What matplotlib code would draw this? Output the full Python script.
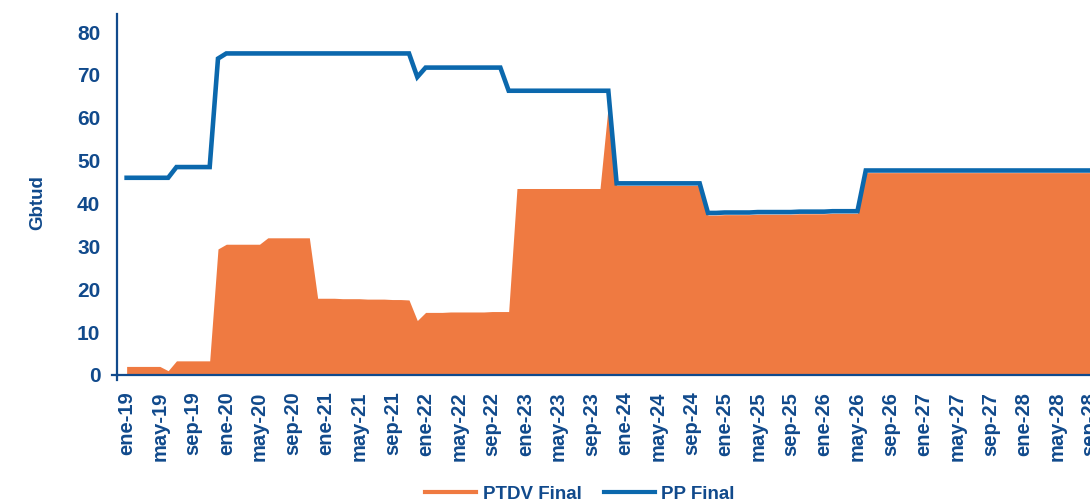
import matplotlib.pyplot as plt
from matplotlib.lines import Line2D

# monthly values, ene-19 .. dic-28 (Gbtud)
pp_final = [
    46.0, 46.0, 46.0, 46.0, 46.0, 46.0, 48.5, 48.5, 48.5, 48.5, 48.5, 73.8,   # 2019
    75.0, 75.0, 75.0, 75.0, 75.0, 75.0, 75.0, 75.0, 75.0, 75.0, 75.0, 75.0,   # 2020
    75.0, 75.0, 75.0, 75.0, 75.0, 75.0, 75.0, 75.0, 75.0, 75.0, 75.0, 69.5,   # 2021
    71.7, 71.7, 71.7, 71.7, 71.7, 71.7, 71.7, 71.7, 71.7, 71.7, 66.3, 66.3,   # 2022
    66.3, 66.3, 66.3, 66.3, 66.3, 66.3, 66.3, 66.3, 66.3, 66.3, 66.3, 44.7,   # 2023
    44.7, 44.7, 44.7, 44.7, 44.7, 44.7, 44.7, 44.7, 44.7, 44.7, 37.8, 37.8,   # 2024
    37.9, 37.9, 37.9, 37.9, 38.0, 38.0, 38.0, 38.0, 38.0, 38.1, 38.1, 38.1,   # 2025
    38.1, 38.2, 38.2, 38.2, 38.2, 47.7, 47.7, 47.7, 47.7, 47.7, 47.7, 47.7,   # 2026
    47.7, 47.7, 47.7, 47.7, 47.7, 47.7, 47.7, 47.7, 47.7, 47.7, 47.7, 47.7,   # 2027
    47.7, 47.7, 47.7, 47.7, 47.7, 47.7, 47.7, 47.7, 47.7, 47.7, 47.7, 47.7,   # 2028
]

ptdv_final = [
    2.0, 2.0, 2.0, 2.0, 2.0, 1.0, 3.3, 3.3, 3.3, 3.3, 3.3, 29.4,             # 2019
    30.5, 30.5, 30.5, 30.5, 30.5, 32.0, 32.0, 32.0, 32.0, 32.0, 32.0, 17.9,   # 2020
    17.9, 17.9, 17.8, 17.8, 17.8, 17.7, 17.7, 17.7, 17.6, 17.6, 17.5, 12.7,   # 2021
    14.6, 14.6, 14.6, 14.7, 14.7, 14.7, 14.7, 14.7, 14.8, 14.8, 14.8, 43.5,   # 2022
    43.5, 43.5, 43.5, 43.5, 43.5, 43.5, 43.5, 43.5, 43.5, 43.5, 63.0, 44.2,   # 2023
    44.2, 44.2, 44.2, 44.2, 44.2, 44.2, 44.2, 44.2, 44.2, 44.2, 37.3, 37.3,   # 2024
    37.4, 37.4, 37.4, 37.4, 37.5, 37.5, 37.5, 37.5, 37.5, 37.6, 37.6, 37.6,   # 2025
    37.6, 37.7, 37.7, 37.7, 37.7, 47.2, 47.2, 47.2, 47.2, 47.2, 47.2, 47.2,   # 2026
    47.2, 47.2, 47.2, 47.2, 47.2, 47.2, 47.2, 47.2, 47.2, 47.2, 47.2, 47.2,   # 2027
    47.2, 47.2, 47.2, 47.2, 47.2, 47.2, 47.2, 47.2, 47.2, 47.2, 47.2, 47.2,   # 2028
]

month_names = ['ene', 'feb', 'mar', 'abr', 'may', 'jun',
               'jul', 'ago', 'sep', 'oct', 'nov', 'dic']
years = ['19', '20', '21', '22', '23', '24', '25', '26', '27', '28']
months = [m + '-' + y for y in years for m in month_names]

y_ticks = [0, 10, 20, 30, 40, 50, 60, 70, 80]

NAVY = '#114a8c'
BLUE = '#0b68ad'
ORANGE = '#ef7a41'
FONT = ['Liberation Sans', 'DejaVu Sans']

plt.rcParams['font.family'] = FONT
plt.rcParams['font.weight'] = 'bold'

x = list(range(len(months)))

fig = plt.figure(figsize=(10.9, 5.03), dpi=100)
ax = fig.add_axes([117 / 1090, 128 / 503, 973 / 1090, 361 / 503])

ax.fill_between(x, 0, ptdv_final, color=ORANGE, linewidth=0)
ax.plot(x, pp_final, color=BLUE, linewidth=3.3, solid_joinstyle='miter')

ax.set_xlim(-1.16, 115.6)
ax.set_ylim(0, 84.2)

ax.set_xticks(x[::4])
ax.set_xticklabels(months[::4], rotation=90, fontsize=14.5, color=NAVY,
                   fontweight='bold')
ax.set_yticks(y_ticks)
ax.set_yticklabels([str(v) for v in y_ticks], fontsize=15, color=NAVY,
                   fontweight='bold')
ax.tick_params(axis='x', length=0, pad=12)
ax.tick_params(axis='y', length=0, pad=12)

for side in ['top', 'right']:
    ax.spines[side].set_visible(False)
for side in ['left', 'bottom']:
    ax.spines[side].set_color(NAVY)
    ax.spines[side].set_linewidth(1.6)

# small overhang of the axes at the origin
ax.plot([-5 / 973, 0], [0, 0], transform=ax.transAxes, color=NAVY,
        linewidth=1.6, clip_on=False)
ax.plot([0, 0], [-5 / 361, 0], transform=ax.transAxes, color=NAVY,
        linewidth=1.6, clip_on=False)

fig.text(38 / 1090, 1 - 203 / 503, 'Gbtud', rotation=90, ha='center',
         va='center', fontsize=13.5, color=NAVY, fontweight='bold')

handles = [Line2D([0], [0], color=ORANGE, linewidth=3),
           Line2D([0], [0], color=BLUE, linewidth=3)]
fig.legend(handles, ['PTDV Final', 'PP Final'], loc='center',
           bbox_to_anchor=(580 / 1090, 1 - 494 / 503), ncol=2, frameon=False,
           labelcolor=NAVY, handlelength=2.7,
           handletextpad=0.35, columnspacing=1.2,
           prop={'family': FONT, 'weight': 'bold', 'size': 13.5})

fig.savefig('out.png', dpi=100)
